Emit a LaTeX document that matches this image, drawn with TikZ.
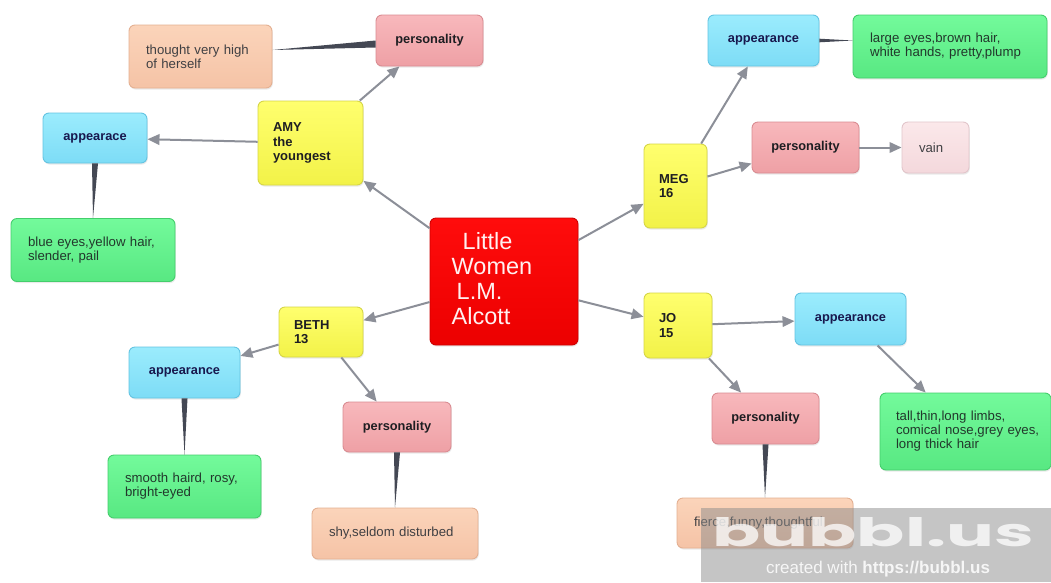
\documentclass[tikz,border=0pt]{standalone}
\usepackage{fontspec}
\usepackage{graphicx}
\setmainfont{Liberation Sans}
\newfontfamily\wmfont{Poppins}
\usetikzlibrary{arrows.meta,calc,shadows}
\definecolor{redT}{RGB}{255,12,12}\definecolor{redB}{RGB}{236,0,0}\definecolor{redD}{RGB}{205,0,0}
\definecolor{yelT}{RGB}{255,255,110}\definecolor{yelB}{RGB}{242,242,72}\definecolor{yelD}{RGB}{214,214,70}
\definecolor{pinT}{RGB}{248,184,188}\definecolor{pinB}{RGB}{238,160,165}\definecolor{pinD}{RGB}{218,140,146}
\definecolor{bluT}{RGB}{155,236,253}\definecolor{bluB}{RGB}{125,220,246}\definecolor{bluD}{RGB}{100,196,226}
\definecolor{grnT}{RGB}{115,250,155}\definecolor{grnB}{RGB}{88,232,130}\definecolor{grnD}{RGB}{68,206,108}
\definecolor{peaT}{RGB}{251,212,186}\definecolor{peaB}{RGB}{245,195,166}\definecolor{peaD}{RGB}{228,176,146}
\definecolor{vaiT}{RGB}{251,232,234}\definecolor{vaiB}{RGB}{244,216,220}\definecolor{vaiD}{RGB}{226,198,203}
\definecolor{arrC}{RGB}{140,143,152}
\definecolor{wedC}{RGB}{68,72,84}
\definecolor{txtC}{RGB}{30,30,34}
\definecolor{gtxC}{RGB}{34,56,44}
\tikzset{
  base/.style={rounded corners=6pt, line width=0.9pt,
    drop shadow={opacity=0.16, shadow xshift=0.8pt, shadow yshift=-1.6pt}},
  yelbox/.style={base, draw=yelD, top color=yelT, bottom color=yelB, text=txtC,
    font=\fontsize{13}{14.5}\selectfont\bfseries, align=left, inner xsep=15pt},
  pinbox/.style={base, draw=pinD, top color=pinT, bottom color=pinB, text=txtC,
    font=\fontsize{12.8}{14.5}\selectfont\bfseries, align=center},
  blubox/.style={base, draw=bluD, top color=bluT, bottom color=bluB, text=txtC!80!blue,
    font=\fontsize{12.8}{14.5}\selectfont\bfseries, align=center},
  grnbox/.style={base, draw=grnD, top color=grnT, bottom color=grnB, text=gtxC,
    font=\fontsize{13.2}{14}\selectfont, align=left, inner xsep=17pt},
  peabox/.style={base, draw=peaD, top color=peaT, bottom color=peaB, text=txtC!85,
    font=\fontsize{13.2}{14}\selectfont, align=left, inner xsep=17pt},
  vaibox/.style={base, draw=vaiD, top color=vaiT, bottom color=vaiB, text=txtC!85,
    font=\fontsize{13.2}{14}\selectfont, align=left, inner xsep=17pt},
  redbox/.style={base, draw=redD, top color=redT, bottom color=redB, text=white!94!red,
    font=\fontsize{23.5}{25}\selectfont},
  arr/.style={draw=arrC, line width=2pt, -{Triangle[length=12pt,width=10.5pt]}},
  wedge/.style={fill=wedC}
}
\begin{document}
\begin{tikzpicture}[x=1pt,y=-1pt]
\useasboundingbox (0,0) rectangle (1051,582);
\fill[white] (0,0) rectangle (1051,582);
% centre
\node[redbox, minimum width=148pt, minimum height=127pt] (c) at (504,281.5)
  {\hspace*{-12pt}\begin{tabular}{@{}l@{}}\hspace*{11pt}Little\\Women\\\hspace*{5pt}L.M.\\Alcott\end{tabular}\hspace*{12pt}};
% AMY
\node[yelbox, text width=75pt, minimum height=84pt] (amy) at (310.5,143) {AMY\\the\\youngest};
\node[pinbox, minimum width=107pt, minimum height=51pt] (amyp) at (429.5,40.5) {personality};
\node[peabox, text width=109pt, minimum height=63pt] (amyt) at (200.5,56.5) {thought very high\\of herself};
\node[blubox, minimum width=104pt, minimum height=50pt] (amya) at (95,138) {appearace};
\node[grnbox, text width=130pt, minimum height=63pt] (amyb) at (93,250) {blue eyes,yellow hair,\\slender, pail};
% MEG
\node[yelbox, text width=33pt, minimum height=84pt] (meg) at (675.5,186) {MEG\\16};
\node[blubox, minimum width=111pt, minimum height=51pt] (mega) at (763.5,40.5) {appearance};
\node[grnbox, text width=160pt, minimum height=63pt] (megl) at (950,46.5) {large eyes,brown hair,\\white hands, pretty,plump};
\node[pinbox, minimum width=107pt, minimum height=51pt] (megp) at (805.5,147.5) {personality};
\node[vaibox, text width=33pt, minimum height=51pt] (vain) at (935.5,147.5) {vain};
% BETH
\node[yelbox, text width=54pt, minimum height=50pt] (beth) at (321,332) {BETH\\13};
\node[blubox, minimum width=111pt, minimum height=51pt] (betha) at (184.5,372.5) {appearance};
\node[grnbox, text width=119pt, minimum height=63pt] (beths) at (184.5,486.5) {smooth haird, rosy,\\bright-eyed};
\node[pinbox, minimum width=108pt, minimum height=50pt] (bethp) at (397,427) {personality};
\node[peabox, text width=132pt, minimum height=51pt] (bethy) at (395,533.5) {shy,seldom disturbed};
% JO
\node[yelbox, text width=38pt, minimum height=65pt] (jo) at (678,325.5) {JO\\15};
\node[blubox, minimum width=111pt, minimum height=52pt] (joa) at (850.5,319) {appearance};
\node[grnbox, inner xsep=16pt, text width=139pt, minimum height=77pt] (jot) at (965.5,431.5) {tall,thin,long limbs,\\\mbox{comical nose,grey eyes,}\\long thick hair};
\node[pinbox, minimum width=107pt, minimum height=51pt] (jop) at (765.5,418.5) {personality};
\node[peabox, text width=142pt, minimum height=50pt] (jof) at (765,523) {fierce,funny,thoughtful};
% arrows
\draw[arr] (c) -- (amy);
\draw[arr] (amy) -- (amyp);
\draw[arr] (amy) -- (amya);
\draw[arr] (c) -- (meg);
\draw[arr] (meg) -- (mega);
\draw[arr] (meg) -- (megp);
\draw[arr] (megp) -- (vain);
\draw[arr] (c) -- (beth);
\draw[arr] (beth) -- (betha);
\draw[arr] (beth) -- (bethp);
\draw[arr] (c) -- (jo);
\draw[arr] (jo) -- (joa);
\draw[arr] (jo) -- (jop);
\draw[arr] (joa) -- (jot);
% wedge links
\fill[wedge] ($(amyp.west)+(0,0)$) -- ($(amyp.west)+(0,7)$) -- ($(amyt.east)+(0,-6.5)$) -- cycle;
\fill[wedge] ($(amya.south)+(-3,0)$) -- ($(amya.south)+(3,0)$) -- (amyb.north) -- cycle;
\fill[wedge] ($(mega.east)+(0,-1.8)$) -- ($(mega.east)+(0,1.8)$) -- ($(megl.west)+(0,-6)$) -- cycle;
\fill[wedge] ($(betha.south)+(-3,0)$) -- ($(betha.south)+(3,0)$) -- (beths.north) -- cycle;
\fill[wedge] ($(bethp.south)+(-3,0)$) -- ($(bethp.south)+(3,0)$) -- (bethy.north) -- cycle;
\fill[wedge] ($(jop.south)+(-3,0)$) -- ($(jop.south)+(3,0)$) -- (jof.north) -- cycle;
% watermark
\fill[black!45, opacity=0.5] (701,508) rectangle (1051,582);
\node[text=white, opacity=0.75, font=\wmfont\bfseries\fontsize{56}{56}\selectfont, inner sep=0pt] (wm) at (873,532) {\scalebox{1.27}[0.7]{bubbl.us}};
\node[text=white, opacity=0.85, font=\fontsize{17}{17}\selectfont, inner sep=0pt] (wm2) at (878,569.5) {created with \textbf{https://bubbl.us}};
\end{tikzpicture}
\end{document}
